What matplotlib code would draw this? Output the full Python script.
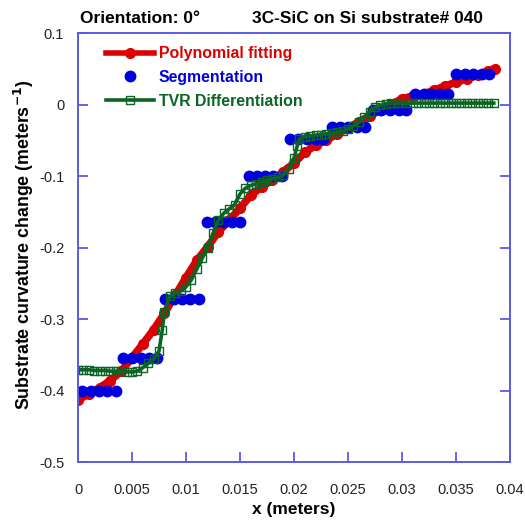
import matplotlib
matplotlib.use("Agg")
import matplotlib.pyplot as plt

plt.rcParams['font.family'] = ['Liberation Sans', 'DejaVu Sans']

# polynomial fit of the curvature change
poly_x = [0.0000, 0.0010, 0.0020, 0.0030, 0.0040, 0.0050, 0.0060, 0.0070, 0.0080, 0.0090,
          0.0100, 0.0110, 0.0120, 0.0130, 0.0140, 0.0150, 0.0160, 0.0170, 0.0180, 0.0190,
          0.0200, 0.0210, 0.0220, 0.0230, 0.0240, 0.0250, 0.0260, 0.0270, 0.0280, 0.0290,
          0.0300, 0.0310, 0.0320, 0.0330, 0.0340, 0.0350, 0.0360, 0.0370, 0.0380, 0.0386]
poly_y = [-0.413, -0.405, -0.396, -0.386, -0.373, -0.354, -0.335, -0.315, -0.292, -0.267,
          -0.242, -0.218, -0.199, -0.178, -0.162, -0.145, -0.127, -0.115, -0.106, -0.094,
          -0.082, -0.067, -0.057, -0.050, -0.041, -0.033, -0.024, -0.016, -0.008, 0.000,
          0.008, 0.012, 0.015, 0.020, 0.026, 0.031, 0.036, 0.041, 0.047, 0.050]

# piecewise-constant segmentation result
seg_x = [0.0004, 0.0012, 0.0019, 0.0027, 0.0035, 0.0042, 0.0050, 0.0058, 0.0066, 0.0073,
         0.0081, 0.0089, 0.0096, 0.0104, 0.0112, 0.0119, 0.0127, 0.0135, 0.0143, 0.0150,
         0.0158, 0.0166, 0.0173, 0.0181, 0.0189, 0.0196, 0.0204, 0.0212, 0.0220, 0.0227,
         0.0235, 0.0243, 0.0250, 0.0258, 0.0266, 0.0273, 0.0281, 0.0289, 0.0297, 0.0304,
         0.0312, 0.0320, 0.0327, 0.0335, 0.0343, 0.0350, 0.0358, 0.0366, 0.0374, 0.0381]
seg_y = [-0.400, -0.400, -0.400, -0.400, -0.400, -0.354, -0.354, -0.354, -0.354, -0.354,
         -0.272, -0.272, -0.272, -0.272, -0.272, -0.165, -0.165, -0.165, -0.165, -0.165,
         -0.100, -0.100, -0.100, -0.100, -0.100, -0.048, -0.048, -0.048, -0.048, -0.048,
         -0.031, -0.031, -0.031, -0.031, -0.031, -0.007, -0.007, -0.007, -0.007, -0.007,
         0.015, 0.015, 0.015, 0.015, 0.015, 0.042, 0.042, 0.042, 0.042, 0.042]

# total-variation regularised differentiation
tvr_x = [0.0000, 0.0005, 0.0010, 0.0015, 0.0020, 0.0025, 0.0030, 0.0035, 0.0040, 0.0045,
         0.0050, 0.0055, 0.0060, 0.0065, 0.0070, 0.0075, 0.0078, 0.0080, 0.0085, 0.0090,
         0.0095, 0.0100, 0.0105, 0.0110, 0.0115, 0.0120, 0.0125, 0.0130, 0.0135, 0.0140,
         0.0145, 0.0150, 0.0155, 0.0160, 0.0165, 0.0170, 0.0175, 0.0180, 0.0185, 0.0190,
         0.0195, 0.0200, 0.0203, 0.0205, 0.0210, 0.0215, 0.0220, 0.0225, 0.0230, 0.0235,
         0.0240, 0.0245, 0.0250, 0.0255, 0.0260, 0.0265, 0.0270, 0.0275, 0.0280, 0.0285,
         0.0290, 0.0295, 0.0300, 0.0305, 0.0310, 0.0315, 0.0320, 0.0325, 0.0330, 0.0335,
         0.0340, 0.0345, 0.0350, 0.0355, 0.0360, 0.0365, 0.0370, 0.0375, 0.0380, 0.0385]
tvr_y = [-0.371, -0.371, -0.371, -0.372, -0.372, -0.372, -0.373, -0.373, -0.373, -0.374,
         -0.374, -0.373, -0.368, -0.362, -0.356, -0.345, -0.315, -0.290, -0.268, -0.264,
         -0.261, -0.255, -0.245, -0.230, -0.215, -0.200, -0.180, -0.162, -0.152, -0.146,
         -0.140, -0.125, -0.117, -0.113, -0.111, -0.109, -0.106, -0.104, -0.102, -0.099,
         -0.090, -0.075, -0.058, -0.048, -0.045, -0.044, -0.043, -0.042, -0.041, -0.040,
         -0.039, -0.037, -0.034, -0.030, -0.025, -0.018, -0.010, -0.004, -0.001, 0.001,
         0.002, 0.002, 0.002, 0.002, 0.002, 0.002, 0.002, 0.002, 0.002, 0.002,
         0.002, 0.002, 0.002, 0.002, 0.002, 0.002, 0.002, 0.002, 0.002, 0.002]

red = '#dd0000'
blue = '#0000dd'
green = '#0c6424'
axis_blue = '#5a5ae6'

fig = plt.figure(figsize=(5.25, 5.2), dpi=100)
ax = fig.add_axes([0.1486, 0.1115, 0.8228, 0.825])

ax.plot(poly_x, poly_y, color=red, lw=5.5, marker='o', ms=7, label='Polynomial fitting')
ax.plot(seg_x, seg_y, ls='none', color=blue, marker='o', ms=7.5, label='Segmentation')
ax.plot(tvr_x, tvr_y, color=green, lw=2.6, marker='s', ms=6, mfc='none',
        mew=1.0, label='TVR Differentiation')

ax.set_xlim(0, 0.04)
ax.set_ylim(-0.5, 0.1)
ax.set_xticks([0, 0.005, 0.01, 0.015, 0.02, 0.025, 0.03, 0.035, 0.04])
ax.set_xticklabels(['0', '0.005', '0.01', '0.015', '0.02', '0.025', '0.03', '0.035', '0.04'])
ax.set_yticks([-0.5, -0.4, -0.3, -0.2, -0.1, 0, 0.1])
ax.set_yticklabels(['-0.5', '-0.4', '-0.3', '-0.2', '-0.1', '0', '0.1'])

for s in ax.spines.values():
    s.set_color(axis_blue)
    s.set_linewidth(1.4)
ax.tick_params(direction='in', length=7, width=1.3, color=axis_blue,
               labelsize=10.5, labelcolor='#222222', right=True, pad=10)
ax.tick_params(axis='x', pad=15)

ax.set_xlabel('x (meters)', fontsize=12.5, fontweight='bold', labelpad=4)
ax.set_ylabel('Substrate curvature change (meters$^{\\mathbf{-1}}$)',
              fontsize=12.8, fontweight='bold')
ax.yaxis.set_label_coords(-0.097, 0.507)

fig.text(0.152, 0.955, 'Orientation: 0°', fontsize=12.5, fontweight='bold')
fig.text(0.92, 0.955, '3C-SiC on Si substrate# 040', fontsize=12.5,
         fontweight='bold', ha='right')

leg = ax.legend(loc='upper left', bbox_to_anchor=(0.04, 0.995), frameon=False,
                fontsize=11.4, handlelength=3.0, handletextpad=0.3,
                labelspacing=0.55, borderpad=0.2)
leg.get_lines()[0].set_linewidth(4)
for txt, c in zip(leg.get_texts(), [red, blue, green]):
    txt.set_color(c)
    txt.set_fontweight('bold')

fig.savefig('out.png', dpi=100)
